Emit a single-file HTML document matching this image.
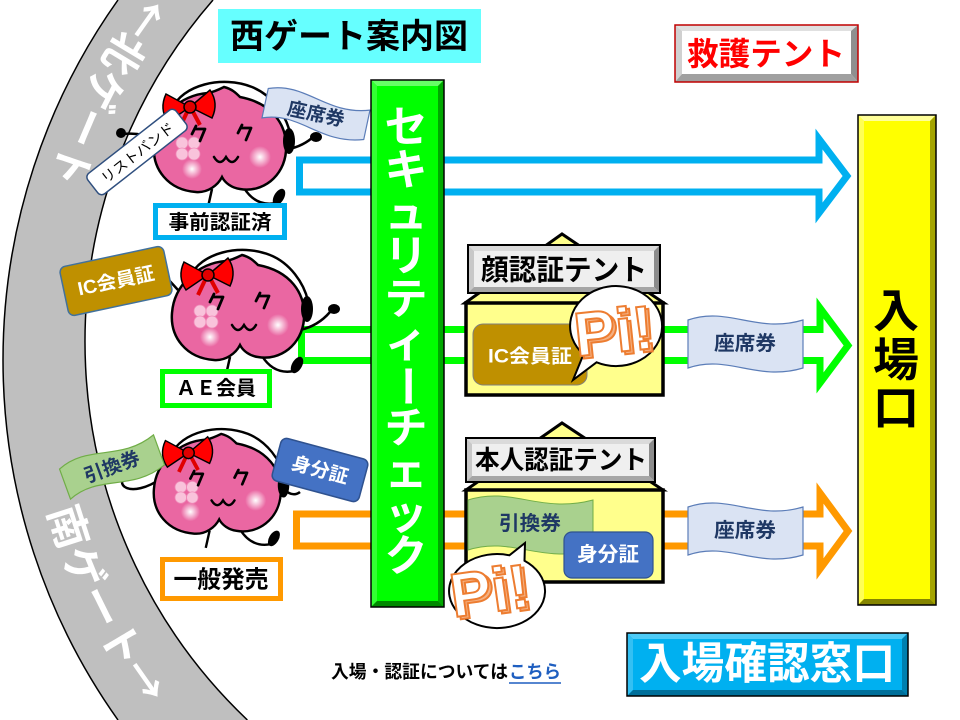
<!DOCTYPE html>
<html><head><meta charset="utf-8">
<style>
html,body{margin:0;padding:0;background:#fff;width:960px;height:720px;overflow:hidden;}
svg{display:block;overflow:hidden;}
text{font-family:"Liberation Sans","Noto Sans CJK JP",sans-serif;font-weight:bold;}
.cjk{font-family:"Noto Sans CJK JP","Liberation Sans",sans-serif;}
</style></head>
<body>
<svg width="960" height="720" viewBox="0 0 960 720" xmlns="http://www.w3.org/2000/svg">
<defs>
  <radialGradient id="glow">
    <stop offset="0" stop-color="#fff" stop-opacity="1"/>
    <stop offset="1" stop-color="#fff" stop-opacity="0"/>
  </radialGradient>
  <g id="chr">
    <path d="M20 24 C30 0 70 -10 100 2 C120 10 134 30 138 48" fill="none" stroke="#000" stroke-width="2.5"/>
    <path d="M60 104 L56 122" stroke="#000" stroke-width="2.5"/>
    <path d="M92 103 Q104 122 124 118" fill="none" stroke="#000" stroke-width="2.5"/>
    <ellipse cx="127" cy="112" rx="5" ry="9" transform="rotate(30 127 112)" fill="#000"/>
    <path d="M72 2 C80 4 84 8 88 12 C120 18 136 40 134 66 C132 92 110 108 88 104 C80 103 73 98 70 92 C66 100 56 108 44 107 C16 105 0 84 2 60 C4 32 28 10 56 8 C62 7 68 4 72 2 Z" fill="#EA67A2" stroke="#000" stroke-width="2.5"/>
    <ellipse cx="137" cy="56" rx="6" ry="13" fill="#000"/>
    <circle cx="108" cy="72" r="11" fill="url(#glow)"/>
    <circle cx="40" cy="84" r="10" fill="url(#glow)"/>
    <g fill="#F9C3DB" stroke="#F08AB8" stroke-width="0.8">
      <circle cx="30" cy="58" r="6"/><circle cx="42" cy="58" r="6"/>
      <circle cx="30" cy="69" r="6"/><circle cx="42" cy="69" r="6"/>
    </g>
    <path d="M44 41 L40 49 M43 44 L53 44 L48 56" fill="none" stroke="#000" stroke-width="2.8" stroke-linecap="round" stroke-linejoin="round"/>
    <path d="M90 40 L86 48 M89 43 L99 43 L94 55" fill="none" stroke="#000" stroke-width="2.8" stroke-linecap="round" stroke-linejoin="round"/>
    <path d="M62 72 Q68 82 74 72 Q80 82 86 72" fill="none" stroke="#000" stroke-width="2.5" stroke-linecap="round"/>
    <path d="M38 22 L14 9 Q7 24 16 37 Z" fill="#FF0000" stroke="#000" stroke-width="1.5"/>
    <path d="M38 22 L58 5 Q67 18 60 33 Z" fill="#FF0000" stroke="#000" stroke-width="1.5"/>
    <path d="M36 25 L28 42 M40 25 L48 40" stroke="#E00000" stroke-width="4"/>
    <circle cx="38" cy="22" r="6" fill="#E00000" stroke="#000" stroke-width="1.5"/>
  </g>
</defs>

<!-- gate band -->
<path d="M 118 0 A 621 621 0 0 0 118 720 L 247.4 720 A 521 521 0 0 1 213 0 Z" fill="#BFBFBF"/>
<path d="M 118 0 A 621 621 0 0 0 118 720" fill="none" stroke="#000" stroke-width="1.5"/>
<path d="M 247.4 720 A 521 521 0 0 1 213 0" fill="none" stroke="#000" stroke-width="1.5"/>
<path id="gp" d="M 164.6 0 A 571 571 0 0 0 179.2 720" fill="none"/>
<text class="cjk" font-size="42" fill="#fff" dominant-baseline="central"><textPath href="#gp" startOffset="6" textLength="205" lengthAdjust="spacingAndGlyphs">←北ゲート</textPath></text>
<text class="cjk" font-size="42" fill="#fff" dominant-baseline="central"><textPath href="#gp" startOffset="534" textLength="215" lengthAdjust="spacingAndGlyphs">南ゲート→</textPath></text>

<!-- arrows -->
<polygon points="299.5,160 819,160 819,139 847,176 819,213 819,192 299.5,192" fill="#fff" stroke="#00B0F0" stroke-width="7"/>
<polygon points="301.5,329.5 820,329.5 820,308 848,345.5 820,383 820,360.5 301.5,360.5" fill="#fff" stroke="#00FF00" stroke-width="7"/>
<polygon points="296.5,514 820,514 820,493 848,531 820,569 820,546 296.5,546" fill="#fff" stroke="#FF9900" stroke-width="7"/>

<!-- character 1 -->
<path d="M158 140 Q140 132 124 134" fill="none" stroke="#000" stroke-width="2.5"/>
<ellipse cx="121" cy="133" rx="5" ry="5" fill="#000"/>
<path d="M283 150 Q300 148 312 138" fill="none" stroke="#000" stroke-width="2.5"/>
<ellipse cx="316" cy="137" rx="6" ry="5" fill="#000"/>
<use href="#chr" transform="translate(152,85)"/>

<!-- character 2 -->
<path d="M178 290 Q160 270 150 262" fill="none" stroke="#000" stroke-width="2.5"/>
<path d="M300 330 Q318 326 330 312" fill="none" stroke="#000" stroke-width="2.5"/>
<ellipse cx="334" cy="309" rx="6" ry="5" fill="#000"/>
<use href="#chr" transform="translate(170,253)"/>

<!-- character 3 -->
<path d="M162 478 C130 500 110 485 130 470" fill="none" stroke="#000" stroke-width="2.5"/>
<path d="M276 480 Q290 500 300 492" fill="none" stroke="#000" stroke-width="2.5"/>
<use href="#chr" transform="translate(152,432) scale(0.96,0.95)"/>

<!-- tags on characters -->
<g transform="translate(137,152) rotate(-38)">
  <rect x="-56" y="-13" width="112" height="26" rx="5" fill="#fff" stroke="#2F4F7F" stroke-width="1.5"/>
  <text x="0" y="1" font-size="14" fill="#000" text-anchor="middle" dominant-baseline="central" style="font-weight:normal" textLength="88" lengthAdjust="spacingAndGlyphs">リストバンド</text>
</g>
<g transform="translate(316,114) rotate(12)">
  <path d="M-52 -15 C-16 -29 10 -1 52 -15 L52 15 C10 29 -16 1 -52 15 Z" fill="#DAE3F3" stroke="#5B7DB8" stroke-width="1.2"/>
  <text x="0" y="1" font-size="19" fill="#1F3864" text-anchor="middle" dominant-baseline="central" textLength="58" lengthAdjust="spacingAndGlyphs">座席券</text>
</g>
<g transform="translate(116,281) rotate(-12)">
  <rect x="-53" y="-25" width="106" height="50" rx="6" fill="#BF9000" stroke="#41719C" stroke-width="1.5"/>
  <text x="0" y="1" font-size="19" fill="#fff" text-anchor="middle" dominant-baseline="central" textLength="78" lengthAdjust="spacingAndGlyphs">IC会員証</text>
</g>
<g transform="translate(112,467) rotate(-20)">
  <path d="M-50 -16 C-15 -30 10 -2 50 -16 L50 16 C10 30 -15 2 -50 16 Z" fill="#A9D18E" stroke="#70AD47" stroke-width="1.2"/>
  <text x="0" y="1" font-size="19" fill="#1F3864" text-anchor="middle" dominant-baseline="central" textLength="58" lengthAdjust="spacingAndGlyphs">引換券</text>
</g>
<g transform="translate(320,470) rotate(15)">
  <rect x="-45" y="-22" width="90" height="44" rx="6" fill="#4472C4" stroke="#2F528F" stroke-width="1.5"/>
  <text x="0" y="1" font-size="19" fill="#fff" text-anchor="middle" dominant-baseline="central" textLength="58" lengthAdjust="spacingAndGlyphs">身分証</text>
</g>

<!-- label boxes -->
<rect x="155.5" y="205.5" width="129" height="32" fill="#fff" stroke="#00B0F0" stroke-width="5"/>
<text x="220" y="223" font-size="20" fill="#000" text-anchor="middle" dominant-baseline="central" textLength="103" lengthAdjust="spacingAndGlyphs">事前認証済</text>
<rect x="162.5" y="371.5" width="107" height="34" fill="#fff" stroke="#00FF00" stroke-width="5"/>
<text x="216" y="389" font-size="20" fill="#000" text-anchor="middle" dominant-baseline="central" textLength="80" lengthAdjust="spacingAndGlyphs">ＡＥ会員</text>
<rect x="162.5" y="559.5" width="118" height="39" fill="#fff" stroke="#FF9900" stroke-width="5"/>
<text x="221" y="580" font-size="24" fill="#000" text-anchor="middle" dominant-baseline="central" textLength="95" lengthAdjust="spacingAndGlyphs">一般発売</text>

<!-- security bar -->
<rect x="371" y="80" width="73" height="527" fill="#00FF00"/>
<polygon points="371,80 444,80 438,86 377,86" fill="#66FF66"/>
<polygon points="371,80 377,86 377,601 371,607" fill="#33FF33"/>
<polygon points="444,80 444,607 438,601 438,86" fill="#00A800"/>
<polygon points="371,607 444,607 438,601 377,601" fill="#008A00"/>
<rect x="371" y="80" width="73" height="527" fill="none" stroke="#000" stroke-width="1.5"/>
<g font-size="43" fill="#fff" text-anchor="middle" dominant-baseline="central">
  <text x="406" y="128">セ</text>
  <text x="406" y="171">キ</text>
  <text x="406" y="214">ュ</text>
  <text x="406" y="257">リ</text>
  <text x="406" y="300">テ</text>
  <text x="406" y="343">ィ</text>
  <text x="406" y="386" transform="rotate(90 406 386)">ー</text>
  <text x="406" y="429">チ</text>
  <text x="406" y="472">ェ</text>
  <text x="406" y="515">ッ</text>
  <text x="406" y="557">ク</text>
</g>

<!-- entrance bar -->
<rect x="858" y="115" width="78" height="490" fill="#FFFF00"/>
<polygon points="858,115 936,115 930,121 864,121" fill="#FFFF99"/>
<polygon points="858,115 864,121 864,599 858,605" fill="#FFFF55"/>
<polygon points="936,115 936,605 930,599 930,121" fill="#A3A300"/>
<polygon points="858,605 936,605 930,599 864,599" fill="#858500"/>
<rect x="858" y="115" width="78" height="490" fill="none" stroke="#000" stroke-width="1.5"/>
<g font-size="46" fill="#000" text-anchor="middle" dominant-baseline="central">
  <text x="896" y="311">入</text>
  <text x="896" y="360">場</text>
  <text x="896" y="408">口</text>
</g>

<!-- face tent -->
<polygon points="465,303 562,234 664,303" fill="#FFFF8C" stroke="#000" stroke-width="3"/>
<rect x="466" y="303" width="197" height="92" fill="#FFFF8C" stroke="#000" stroke-width="3.5"/>
<rect x="468" y="245" width="192" height="48" fill="#EFEFEF"/>
<polygon points="468,245 660,245 654,251 474,251" fill="#DADADA"/>
<polygon points="468,245 474,251 474,287 468,293" fill="#C8C8C8"/>
<polygon points="660,245 660,293 654,287 654,251" fill="#8C8C8C"/>
<polygon points="468,293 660,293 654,287 474,287" fill="#A6A6A6"/>
<rect x="468" y="245" width="192" height="48" fill="none" stroke="#000" stroke-width="2"/>
<text x="564" y="271" font-size="29" fill="#000" text-anchor="middle" dominant-baseline="central" textLength="166" lengthAdjust="spacingAndGlyphs">顔認証テント</text>
<rect x="473" y="324" width="114" height="61" rx="10" fill="#BF9000" stroke="#7F7F7F" stroke-width="1"/>
<text x="530" y="357" font-size="19" fill="#fff" text-anchor="middle" dominant-baseline="central" textLength="84" lengthAdjust="spacingAndGlyphs">IC会員証</text>
<path d="M 596.6 362.3 A 46 40 0 1 0 583.5 354.3 L 573 380 Z" fill="#fff" stroke="#000" stroke-width="2"/>
<g transform="rotate(-6 617 330)">
  <text x="577" y="355" font-size="62" fill="#F4B183" stroke="#ED7D31" stroke-width="2" style="font-family:'Liberation Sans',sans-serif">Pi!</text>
  <text x="574" y="352" font-size="62" fill="#fff" stroke="#ED7D31" stroke-width="2" style="font-family:'Liberation Sans',sans-serif">Pi!</text>
</g>

<!-- person tent -->
<polygon points="466,490 562,423 663,490" fill="#FFFF8C" stroke="#000" stroke-width="3"/>
<rect x="466" y="490" width="197" height="92" fill="#FFFF8C" stroke="#000" stroke-width="3.5"/>
<rect x="466" y="438" width="189" height="44" fill="#EFEFEF"/>
<polygon points="466,438 655,438 649,444 472,444" fill="#DADADA"/>
<polygon points="466,438 472,444 472,476 466,482" fill="#C8C8C8"/>
<polygon points="655,438 655,482 649,476 649,444" fill="#8C8C8C"/>
<polygon points="466,482 655,482 649,476 472,476" fill="#A6A6A6"/>
<rect x="466" y="438" width="189" height="44" fill="none" stroke="#000" stroke-width="2"/>
<text x="561" y="460" font-size="26" fill="#000" text-anchor="middle" dominant-baseline="central" textLength="172" lengthAdjust="spacingAndGlyphs">本人認証テント</text>
<path d="M468 500 C512 486 540 514 593 500 L593 550 C540 564 512 536 468 550 Z" fill="#A9D18E" stroke="#70AD47" stroke-width="1"/>
<text x="530" y="524" font-size="20" fill="#1F3864" text-anchor="middle" dominant-baseline="central" textLength="62" lengthAdjust="spacingAndGlyphs">引換券</text>
<rect x="564" y="532" width="89" height="46" rx="8" fill="#4472C4" stroke="#2F528F" stroke-width="1.2"/>
<text x="608" y="555" font-size="20" fill="#fff" text-anchor="middle" dominant-baseline="central" textLength="62" lengthAdjust="spacingAndGlyphs">身分証</text>
<path d="M 509.4 555.3 A 48 37 0 1 0 524.5 560.7 L 525 543 Z" fill="#fff" stroke="#000" stroke-width="2"/>
<g transform="rotate(-8 497 590)">
  <text x="453" y="614" font-size="62" fill="#F4B183" stroke="#ED7D31" stroke-width="2" style="font-family:'Liberation Sans',sans-serif">Pi!</text>
  <text x="450" y="611" font-size="62" fill="#fff" stroke="#ED7D31" stroke-width="2" style="font-family:'Liberation Sans',sans-serif">Pi!</text>
</g>

<!-- seat ticket flags -->
<path d="M688 320 C728 306 757 334 803 320 L803 368 C757 382 728 354 688 368 Z" fill="#DAE3F3" stroke="#5B7DB8" stroke-width="1.2"/>
<text x="745" y="344" font-size="20" fill="#1F3864" text-anchor="middle" dominant-baseline="central" textLength="62" lengthAdjust="spacingAndGlyphs">座席券</text>
<path d="M688 507 C728 493 757 521 803 507 L803 555 C757 569 728 541 688 555 Z" fill="#DAE3F3" stroke="#5B7DB8" stroke-width="1.2"/>
<text x="745" y="531" font-size="20" fill="#1F3864" text-anchor="middle" dominant-baseline="central" textLength="62" lengthAdjust="spacingAndGlyphs">座席券</text>

<!-- title -->
<rect x="218" y="9" width="263" height="54" fill="#66FFFF"/>
<text x="349" y="37" font-size="34" fill="#000" text-anchor="middle" dominant-baseline="central" textLength="238" lengthAdjust="spacingAndGlyphs">西ゲート案内図</text>

<!-- first aid tent -->
<rect x="675" y="25" width="183" height="57" fill="#fff"/>
<polygon points="675,25 858,25 851,31 682,31" fill="#E0E0E0"/>
<polygon points="675,25 682,31 682,74 675,82" fill="#D0D0D0"/>
<polygon points="858,25 858,82 851,74 851,31" fill="#8F8F8F"/>
<polygon points="675,82 858,82 851,74 682,74" fill="#A0A0A0"/>
<rect x="675" y="25" width="183" height="57" fill="none" stroke="#C00000" stroke-width="1.5"/>
<text x="766" y="54" font-size="32" fill="#FF0000" text-anchor="middle" dominant-baseline="central" textLength="158" lengthAdjust="spacingAndGlyphs">救護テント</text>

<!-- entry confirmation window -->
<rect x="627" y="633" width="281" height="63" fill="#00B0F0"/>
<polygon points="627,633 908,633 902,639 633,639" fill="#4DCBF7"/>
<polygon points="627,633 633,639 633,690 627,696" fill="#33C0F3"/>
<polygon points="908,633 908,696 902,690 902,639" fill="#0080B0"/>
<polygon points="627,696 908,696 902,690 633,690" fill="#006F9A"/>
<rect x="627" y="633" width="281" height="63" fill="none" stroke="#000" stroke-width="1.5"/>
<text x="767" y="664" font-size="44" fill="#fff" text-anchor="middle" dominant-baseline="central" textLength="256" lengthAdjust="spacingAndGlyphs">入場確認窓口</text>

<!-- footer -->
<text x="331" y="672" font-size="18" fill="#000" dominant-baseline="central" textLength="177" lengthAdjust="spacingAndGlyphs">入場・認証については</text>
<text x="509" y="672" font-size="18" fill="#1F5FC0" dominant-baseline="central" textLength="52" lengthAdjust="spacingAndGlyphs">こちら</text>
<line x1="509" y1="683" x2="561" y2="683" stroke="#1F5FC0" stroke-width="1.5"/>
</svg>
</body></html>
